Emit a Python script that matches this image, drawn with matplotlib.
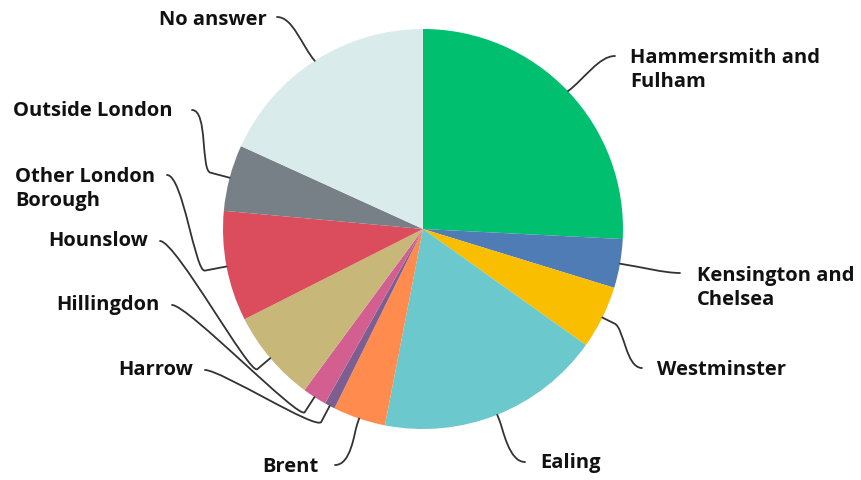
import numpy as np
import matplotlib.pyplot as plt
from matplotlib.path import Path
from matplotlib.patches import PathPatch

# share of responses per borough (percent), clockwise from 12 o'clock
boroughs = ["Hammersmith and\nFulham", "Kensington and\nChelsea", "Westminster",
            "Ealing", "Brent", "Harrow", "Hillingdon", "Hounslow",
            "Other London\nBorough", "Outside London", "No answer"]
shares = [25.8, 3.95, 5.1, 18.2, 4.25, 0.85, 1.95, 7.45, 8.9, 5.35, 18.2]
colours = ["#00BF6F", "#507CB6", "#F9BE00", "#6BC8CD", "#FF8B4F", "#7D5E90",
           "#D25F90", "#C7B879", "#DB4D5C", "#768086", "#D9ECEB"]

W, H = 861, 480
CX, CY, R = 423, H - 229, 200

# label layout: text anchor (x, y from top), alignment, end of leader (x, y from top), elbow length
layout = {
    "Hammersmith and\nFulham": ((630, 70), "left", (615, 56), 0),
    "Kensington and\nChelsea": ((697, 288), "left", (680, 273), 0),
    "Westminster": ((657, 370), "left", (642, 368), 14),
    "Ealing": ((540, 463), "left", (525, 462), 6),
    "Brent": ((318, 467), "right", (335, 465), 6),
    "Harrow": ((193, 370), "right", (205, 370), 18),
    "Hillingdon": ((160, 305), "right", (172, 305), 18),
    "Hounslow": ((148, 241), "right", (160, 241), 17),
    "Other London\nBorough": ((15, 189), "left", (167, 175), 22),
    "Outside London": ((173, 111), "right", (192, 110), 20),
    "No answer": ((267, 20), "right", (277, 17), 0),
}

fig = plt.figure(figsize=(W / 100, H / 100), dpi=100)
ax = fig.add_axes([0, 0, 1, 1])

wedges, _ = ax.pie(shares, colors=colours, startangle=90, counterclock=False,
                   center=(CX, CY), radius=R, wedgeprops=dict(linewidth=0))

for w, name in zip(wedges, boroughs):
    (tx, ty), ha, (ex, ey), elbow = layout[name]
    ty, ey = H - ty, H - ey
    mid = np.deg2rad((w.theta1 + w.theta2) / 2)
    ux, uy = np.cos(mid), np.sin(mid)
    p0 = (CX + R * ux, CY + R * uy)
    p1 = (p0[0] + elbow * ux, p0[1] + elbow * uy)
    # first control point: keep going outwards after the elbow,
    # or head part-way to the label when there is no elbow
    if elbow > 0:
        c1 = (p1[0] + 10 * ux, p1[1] + 10 * uy)
    else:
        c1 = (p1[0] + 0.35 * (ex - p1[0]), p1[1] + 0.35 * (ey - p1[1]))
    # the line leaves the label horizontally, towards the pie
    side = 1 if p1[0] > ex else -1
    c2 = (ex + side * 16, ey)
    verts = [p0, p1, c1, c2, (ex, ey)]
    codes = [Path.MOVETO, Path.LINETO, Path.CURVE4, Path.CURVE4, Path.CURVE4]
    ax.add_patch(PathPatch(Path(verts, codes), fill=False, edgecolor="#333333",
                           linewidth=1.3, capstyle="round"))
    ax.text(tx, ty, name, ha=ha, va="center", fontsize=14.5, fontweight="bold",
            family="Open Sans", color="#111111", linespacing=1.3,
            multialignment="left")

ax.set_xlim(0, W)
ax.set_ylim(0, H)
ax.set_aspect("equal")
ax.axis("off")

fig.savefig("out.png", dpi=100, facecolor="white")
